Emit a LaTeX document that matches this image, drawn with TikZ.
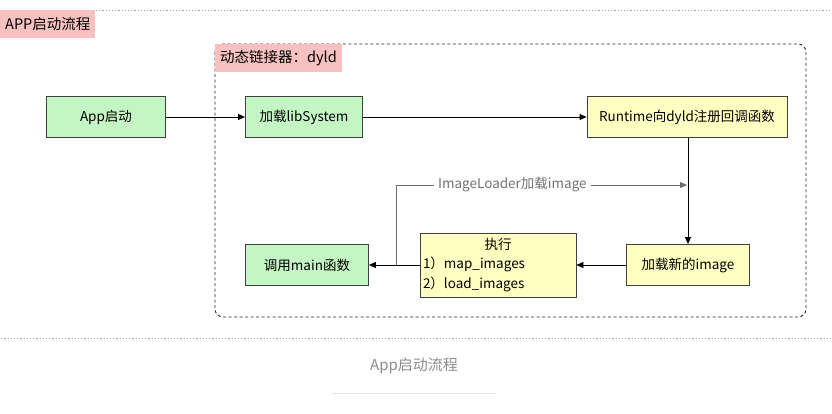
\documentclass[tikz,border=0pt]{standalone}
\usepackage{fontspec}
\setmainfont{Noto Sans CJK SC}
\usetikzlibrary{arrows.meta,positioning}
\definecolor{boxgreen}{HTML}{C4F6C4}
\definecolor{boxyellow}{HTML}{FFFFC2}
\definecolor{tagpink}{HTML}{F8C1C1}
\definecolor{linegray}{HTML}{6E6E6E}

\tikzset{
    flowbox/.style={draw=black!75, line width=0.8pt, minimum height=41pt, inner sep=3pt},
    greenbox/.style={flowbox, fill=boxgreen},
    yellowbox/.style={flowbox, fill=boxyellow},
    tag/.style={fill=tagpink, inner xsep=5pt, minimum height=28pt, anchor=north west,
        font=\fontsize{14.5}{17}\selectfont},
    flow/.style={-{Triangle[length=7pt,width=6pt]}, line width=0.8pt},
}

\begin{document}
\begin{tikzpicture}[x=1pt,y=-1pt,font=\fontsize{13.5}{16}\selectfont]
\useasboundingbox (0,0) rectangle (832,413);

% outer frame with its tag
\draw[gray!70, line width=0.7pt, dash pattern=on 1.2pt off 2pt]
    (-10,10) rectangle (842,338);
\node[tag] (apptag) at (0,10) {APP启动流程};

% dyld frame with its tag
\draw[black!85, line width=0.9pt, dash pattern=on 3pt off 2.5pt, rounded corners=8pt]
    (215,44) rectangle (806,317);
\node[tag] (dyldtag) at (215,44) {动态链接器：dyld};

% top row
\node[greenbox, minimum width=119pt] (launch) at (106,117) {App启动};
\node[greenbox, minimum width=117pt] (libsys) at (304,117) {加载libSystem};
\node[yellowbox, minimum width=200pt] (runtime) at (687,117) {Runtime向dyld注册回调函数};

% bottom row
\node[yellowbox, minimum width=123pt] (newimg) at (688,265) {加载新的image};
\node[yellowbox, minimum width=156pt, minimum height=64pt, text width=150pt,
    align=left, font=\fontsize{13.5}{19.5}\selectfont] (exec) at (498,265)
    {\makebox[150pt]{执行}\\1）map\_images\\2）load\_images};
\node[greenbox, minimum width=123pt] (callmain) at (307,265) {调用main函数};

\draw[flow] (launch) -- (libsys);
\draw[flow] (libsys) -- (runtime);
\draw[flow] (runtime.south -| newimg.north) -- (newimg);
\draw[flow] (newimg) -- (exec);
\draw[flow] (exec) -- (callmain);

% ImageLoader branch
\coordinate (split) at (396,265);
\coordinate (join) at (687,185);
\draw[linegray, line width=0.8pt, -{Triangle[length=7pt,width=6pt]}]
    (split) |- node[pos=0.70, fill=white, text=black!55, inner sep=4pt] {ImageLoader加载image} (join);

% caption
\node[text=black!45, font=\fontsize{15}{17}\selectfont] (caption) at (414,366) {App启动流程};
\draw[black!10, line width=0.8pt] (332,393) -- (496,393);
\end{tikzpicture}
\end{document}
